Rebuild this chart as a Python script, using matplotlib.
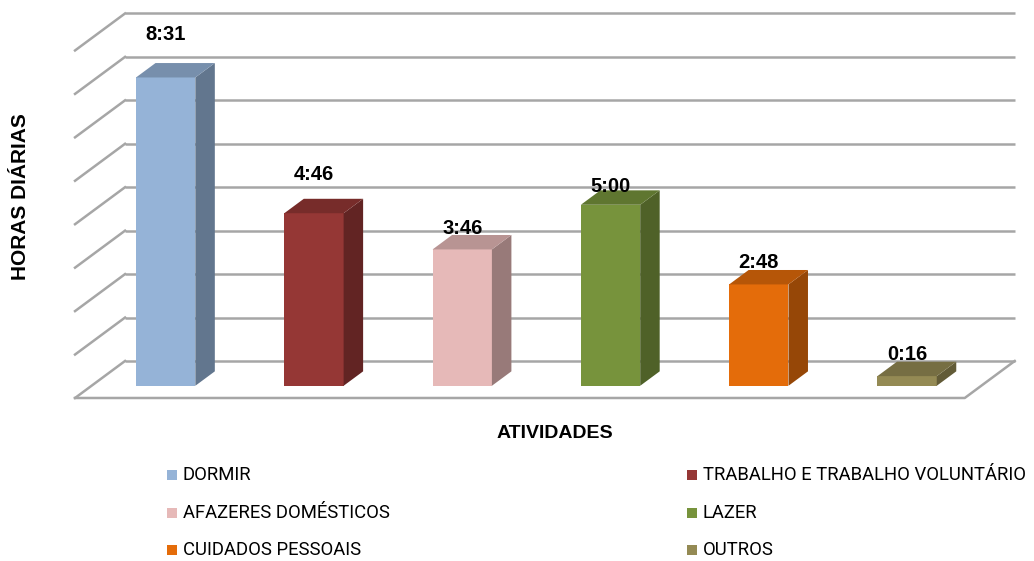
import matplotlib.pyplot as plt
from matplotlib.patches import Polygon, Rectangle
import matplotlib.colors as mcolors

atividades = ['DORMIR', 'TRABALHO E TRABALHO VOLUNTÁRIO', 'AFAZERES DOMÉSTICOS',
              'LAZER', 'CUIDADOS PESSOAIS', 'OUTROS']
tempos = ['8:31', '4:46', '3:46', '5:00', '2:48', '0:16']
cores = ['#95B3D7', '#953735', '#E6B9B8', '#77933C', '#E46C0A', '#948A54']

eixo_max = 9.6
eixo_passo = 1.2

# label gap above each bar (hours), as placed in the original
folga_rotulo = [0.78, 0.66, 0.19, 0.12, 0.22, 0.19]


def para_horas(t):
    h, m = t.split(':')
    return int(h) + int(m) / 60.0


def escurecer(cor, f):
    r, g, b = mcolors.to_rgb(cor)
    return (r * f, g * f, b * f)


horas = [para_horas(t) for t in tempos]

fig = plt.figure(figsize=(10.34, 5.61), dpi=100)
ax = fig.add_axes([0, 0, 1, 1])
ax.axis('off')

# pixel mapping: category unit = 148.3 px, hour = 36.2 px
ax.set_xlim(-1.006, 5.967)
ax.set_ylim(-4.503, 10.994)

# depth vector (whole floor) in data units
px_dx = 50 / 148.3
px_dy = 37 / 36.2
d0 = 0.33
d1 = 0.72
largura = 0.4
n = len(atividades)
grade = '#a6a6a6'

# back wall gridlines and side wall diagonals
k = 0
while k * eixo_passo <= eixo_max + 1e-6:
    y = k * eixo_passo
    ax.plot([-0.5 + px_dx, n - 0.5 + px_dx], [y + px_dy, y + px_dy],
            color=grade, lw=1.8, zorder=1, solid_capstyle='butt')
    ax.plot([-0.5, -0.5 + px_dx], [y, y + px_dy], color=grade, lw=1.8, zorder=1)
    k += 1

# floor front and right edge
ax.plot([-0.5, n - 0.5, n - 0.5 + px_dx], [0, 0, px_dy], color=grade, lw=1.8, zorder=1)

for i, (h, cor, t) in enumerate(zip(horas, cores, tempos)):
    x0 = i - largura / 2 + d0 * px_dx
    x1 = i + largura / 2 + d0 * px_dx
    yb = d0 * px_dy
    ddx = (d1 - d0) * px_dx
    ddy = (d1 - d0) * px_dy
    ax.bar(i + d0 * px_dx, h, bottom=yb, width=largura, color=cor, zorder=3)
    lado = Polygon([(x1, yb), (x1 + ddx, yb + ddy), (x1 + ddx, yb + ddy + h), (x1, yb + h)],
                   closed=True, facecolor=escurecer(cor, 0.66), edgecolor='none', zorder=3)
    topo = Polygon([(x0, yb + h), (x1, yb + h), (x1 + ddx, yb + ddy + h), (x0 + ddx, yb + ddy + h)],
                   closed=True, facecolor=escurecer(cor, 0.8), edgecolor='none', zorder=3)
    ax.add_patch(lado)
    ax.add_patch(topo)
    ax.text(i + d0 * px_dx, yb + ddy + h + folga_rotulo[i], t, ha='center', va='center',
            fontsize=14.5, fontweight='bold', family='Liberation Sans', zorder=4)

fig.text(21 / 1034, 1 - 197 / 561, 'HORAS DIÁRIAS', rotation=90, ha='center', va='center',
         fontsize=15, fontweight='bold', family='Liberation Sans')
fig.text(555 / 1034, 1 - 434 / 561, 'ATIVIDADES', ha='center', va='center',
         fontsize=14, fontweight='bold', family='Liberation Sans')

# legend, two columns
col_x = [167, 687]
lin_y = [475, 513, 550]
for i, (nome, cor) in enumerate(zip(atividades, cores)):
    cx = col_x[i % 2]
    cy = lin_y[i // 2]
    fig.add_artist(Rectangle((cx / 1034, 1 - (cy + 5) / 561), 10 / 1034, 10 / 561,
                             transform=fig.transFigure, facecolor=cor, edgecolor='none'))
    fig.text((cx + 16) / 1034, 1 - cy / 561, nome, ha='left', va='center',
             fontsize=13.3, family=['Roboto', 'DejaVu Sans'])

fig.savefig('out.png', dpi=100)
